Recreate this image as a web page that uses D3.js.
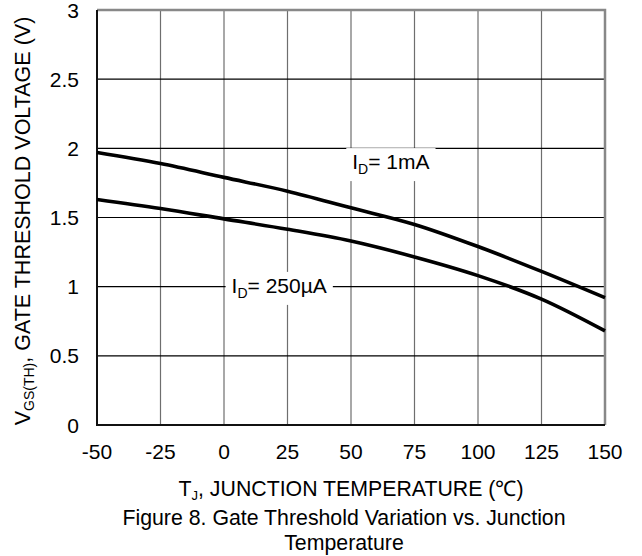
<!DOCTYPE html>
<html>
<head>
<meta charset="utf-8">
<script src="https://cdn.jsdelivr.net/npm/d3@7"></script>
<style>
  body { margin: 0; background: #fff; }
  text { font-family: "Liberation Sans", Arial, sans-serif; fill: #000; }
</style>
</head>
<body>
<svg id="chart" width="642" height="556"></svg>
<script>
// data
const temps = [-50, -25, 0, 25, 50, 75, 100, 125, 150]
const vth1mA = [1.97, 1.89, 1.79, 1.69, 1.57, 1.45, 1.29, 1.11, 0.92]
const vth250uA = [1.63, 1.565, 1.49, 1.415, 1.33, 1.215, 1.08, 0.91, 0.68]
const xTicks = [-50, -25, 0, 25, 50, 75, 100, 125, 150]
const yTicks = [0, 0.5, 1, 1.5, 2, 2.5, 3]

let svg = d3.select("#chart")

let plotL = 97, plotR = 605, plotT = 10, plotB = 425

let x = d3.scaleLinear().domain([-50, 150]).range([plotL, plotR])
let y = d3.scaleLinear().domain([0, 3]).range([plotB, plotT])

// grid
svg.append("g")
    .selectAll("line")
    .data(xTicks.slice(1, -1))
    .join("line")
    .attr("x1", d => x(d)).attr("x2", d => x(d))
    .attr("y1", plotT).attr("y2", plotB)
    .attr("stroke", "#6e6e6e")
    .attr("stroke-width", 1.2)

svg.append("g")
    .selectAll("line")
    .data(yTicks.slice(1, -1))
    .join("line")
    .attr("x1", plotL).attr("x2", plotR)
    .attr("y1", d => y(d)).attr("y2", d => y(d))
    .attr("stroke", "#000")
    .attr("stroke-width", 1.1)

// frame: top/right grey, left/bottom black
svg.append("path")
    .attr("d", `M${plotL},${plotT}H${plotR}V${plotB}`)
    .attr("fill", "none")
    .attr("stroke", "#888")
    .attr("stroke-width", 2.5)
svg.append("path")
    .attr("d", `M${plotL},${plotT}V${plotB}H${plotR}`)
    .attr("fill", "none")
    .attr("stroke", "#111")
    .attr("stroke-width", 2)

// curves
let line = d3.line()
    .x((d, i) => x(temps[i]))
    .y(d => y(d))
    .curve(d3.curveMonotoneX)

svg.selectAll("path.curve")
    .data([vth1mA, vth250uA])
    .join("path")
    .attr("class", "curve")
    .attr("d", line)
    .attr("fill", "none")
    .attr("stroke", "#000")
    .attr("stroke-width", 3.6)

// curve labels with white backing
function curveLabel(t, v, cur) {
    let g = svg.append("g")
    let bg = g.append("rect").attr("fill", "#fff")
    let txt = g.append("text")
        .attr("x", x(t)).attr("y", y(v))
        .attr("font-size", 21)
    txt.append("tspan").text("I")
    txt.append("tspan").text("D").attr("font-size", 14).attr("dy", 5)
    txt.append("tspan").text("= " + cur).attr("dy", -5)
    let bb = txt.node().getBBox()
    bg.attr("x", bb.x - 6).attr("y", bb.y - 2)
      .attr("width", bb.width + 12).attr("height", bb.height + 6)
}
curveLabel(50.5, 1.85, "1mA")
curveLabel(3, 0.955, "250µA")

// tick labels
svg.append("g")
    .selectAll("text")
    .data(xTicks)
    .join("text")
    .attr("x", d => x(d))
    .attr("y", 459)
    .attr("text-anchor", "middle")
    .attr("font-size", 21)
    .text(d => d)

svg.append("g")
    .selectAll("text")
    .data(yTicks)
    .join("text")
    .attr("x", 79)
    .attr("y", d => y(d) + 7.5)
    .attr("text-anchor", "end")
    .attr("font-size", 21)
    .text(d => d)

// axis titles
let xt = svg.append("text")
    .attr("x", 351).attr("y", 496)
    .attr("text-anchor", "middle")
    .attr("font-size", 21.3)
xt.append("tspan").text("T")
xt.append("tspan").text("J").attr("font-size", 13).attr("dy", 4)
xt.append("tspan").text(", JUNCTION TEMPERATURE (℃)").attr("dy", -4)

let yt = svg.append("text")
    .attr("transform", "translate(30,221) rotate(-90)")
    .attr("text-anchor", "middle")
    .attr("font-size", 21.5)
yt.append("tspan").text("V")
yt.append("tspan").text("GS(TH)").attr("font-size", 14).attr("dy", 4)
yt.append("tspan").text(", GATE THRESHOLD VOLTAGE (V)").attr("dy", -4)

// caption
svg.append("text")
    .attr("x", 344).attr("y", 525)
    .attr("text-anchor", "middle")
    .attr("font-size", 21.3)
    .text("Figure 8. Gate Threshold Variation vs. Junction")
svg.append("text")
    .attr("x", 344).attr("y", 550)
    .attr("text-anchor", "middle")
    .attr("font-size", 21.3)
    .text("Temperature")
</script>
</body>
</html>
